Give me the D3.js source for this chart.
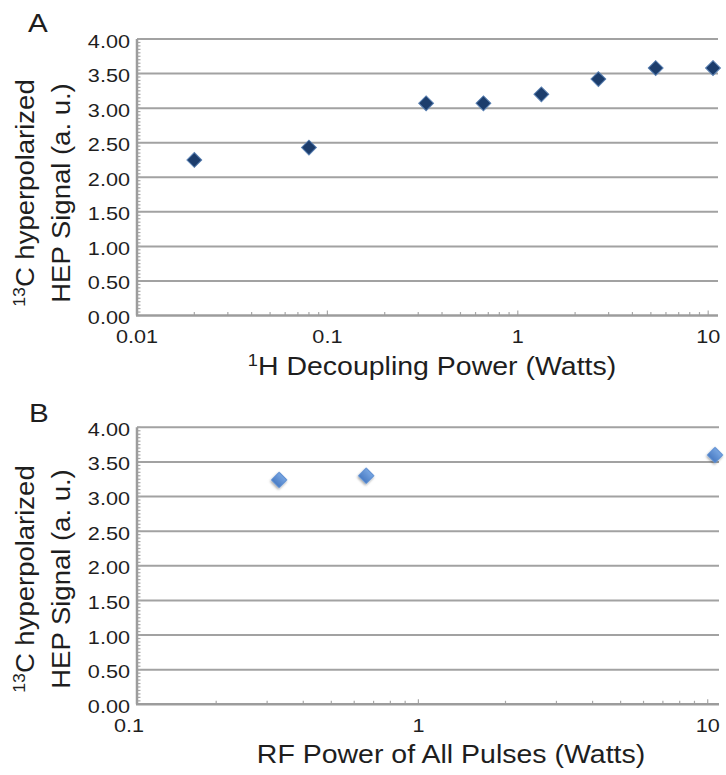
<!DOCTYPE html>
<html lang="en">
<head>
  <meta charset="UTF-8">
  <title>13C hyperpolarized HEP signal vs RF power</title>
  <script src="https://d3js.org/d3.v7.min.js"></script>
  <style>
    body { margin: 0; background: #ffffff; }
    svg text {
      font-family: 'Liberation Sans', Arial, Helvetica, sans-serif;
      fill: #1e1e1e;
    }
    .grid line { stroke: #a2a2a2; stroke-width: 2px; }
    .axis-line { stroke: #9c9c9c; stroke-width: 2.5px; }
    .minor { stroke: #a8a8a8; stroke-width: 1.2px; }
  </style>
</head>
<body>
  <svg id="chart" width="726" height="775"></svg>

  <script>
    // Panel A: 1H decoupling power sweep
    const powerA  = [0.02, 0.08, 0.33, 0.66, 1.33, 2.65, 5.3, 10.6];
    const signalA = [2.25, 2.43, 3.07, 3.07, 3.20, 3.42, 3.58, 3.58];

    // Panel B: RF power of all pulses
    const powerB  = [0.33, 0.66, 10.6];
    const signalB = [3.24, 3.30, 3.60];

    const yTicks = [0, 0.5, 1, 1.5, 2, 2.5, 3, 3.5, 4];
    const xTicksA = [0.01, 0.1, 1, 10];
    const xTicksB = [0.1, 1, 10];
    const xTickLabelsA = ["0.01", "0.1", "1", "10"];
    const xTickLabelsB = ["0.1", "1", "10"];

    const svg = d3.select("#chart");
    const S = 1.14;   // glyphs in the figure are a bit wider than Arial

    // soft shadow + gradient for the light blue markers
    const defs = svg.append("defs");
    const grad = defs.append("linearGradient").attr("id", "blueGrad")
      .attr("x1", 0).attr("y1", 0).attr("x2", 0).attr("y2", 1);
    grad.append("stop").attr("offset", "0%").attr("stop-color", "#78a6e2");
    grad.append("stop").attr("offset", "100%").attr("stop-color", "#4a7cc4");
    defs.append("filter").attr("id", "shadow")
      .attr("x", "-50%").attr("y", "-50%").attr("width", "200%").attr("height", "200%")
      .append("feDropShadow")
      .attr("dx", 0.5).attr("dy", 1.5).attr("stdDeviation", 1.2)
      .attr("flood-color", "#000").attr("flood-opacity", 0.35);

    function panel(o) {
      const g = svg.append("g");
      const x = d3.scaleLog().domain(o.xDomain).range([o.left, o.right]);
      const y = d3.scaleLinear().domain([0, 4]).range([o.bottom, o.top]);

      // horizontal gridlines
      g.append("g").attr("class", "grid")
        .selectAll("line").data(yTicks.filter(d => d > 0)).join("line")
        .attr("x1", o.left).attr("x2", o.right)
        .attr("y1", d => y(d)).attr("y2", d => y(d));

      // y minor ticks along left axis
      g.append("g").selectAll("line").data(d3.range(0, 4.001, 0.05)).join("line")
        .attr("class", "minor")
        .attr("x1", o.left).attr("x2", o.left + 3.5)
        .attr("y1", d => y(d)).attr("y2", d => y(d));

      // x minor / major ticks (log decades)
      g.append("g").selectAll("line").data(x.ticks()).join("line")
        .attr("class", "minor")
        .attr("x1", d => x(d)).attr("x2", d => x(d))
        .attr("y1", o.bottom)
        .attr("y2", d => o.bottom - (Number.isInteger(Math.log10(d)) ? 5 : 3.5));

      // axis lines
      g.append("line").attr("class", "axis-line")
        .attr("x1", o.left).attr("x2", o.left).attr("y1", o.top).attr("y2", o.bottom);
      g.append("line").attr("class", "axis-line")
        .attr("x1", o.left - 1).attr("x2", o.right).attr("y1", o.bottom).attr("y2", o.bottom);

      // y tick labels
      g.append("g").selectAll("text").data(yTicks).join("text")
        .attr("transform", d => `translate(${o.left - 7},${y(d) + 8.5}) scale(${S},1)`)
        .attr("text-anchor", "end")
        .style("font-size", "19px")
        .text(d => d3.format(".2f")(d));

      // x tick labels
      g.append("g").selectAll("text").data(o.xTicks).join("text")
        .attr("transform", d => `translate(${x(d)},${o.bottom + 27.5}) scale(${S},1)`)
        .attr("text-anchor", "middle")
        .style("font-size", "19px")
        .text((d, i) => o.xTickLabels[i]);

      // markers
      const diamond = d3.symbol().type(d3.symbolSquare).size(o.markerSize);
      g.append("g").selectAll("path").data(o.xs).join("path")
        .attr("d", diamond)
        .attr("transform", (d, i) => `translate(${x(d)},${y(o.ys[i])}) rotate(45)`)
        .attr("fill", o.fill)
        .attr("stroke", o.stroke)
        .attr("stroke-width", 1)
        .attr("filter", o.filter || null);

      // panel letter
      g.append("text")
        .attr("transform", `translate(${o.letterX},${o.letterY}) scale(${S},1)`)
        .style("font-size", "26px")
        .text(o.letter);

      // y title, two rotated lines
      const t1 = g.append("text")
        .attr("transform", `translate(33.5,${o.yTitleY}) rotate(-90) scale(1.1,1)`)
        .attr("text-anchor", "middle")
        .style("font-size", "25px");
      t1.append("tspan").style("font-size", "16px").attr("dy", -9).text("13");
      t1.append("tspan").attr("dy", 9).text("C hyperpolarized");

      g.append("text")
        .attr("transform", `translate(70,${o.yTitleY}) rotate(-90) scale(1.1,1)`)
        .attr("text-anchor", "middle")
        .style("font-size", "25px")
        .text("HEP Signal (a. u.)");

      // x title
      const xt = g.append("text")
        .attr("transform", `translate(${o.xTitleX},${o.xTitleY}) scale(${S},1)`)
        .attr("text-anchor", "middle")
        .style("font-size", "25px");
      if (o.xTitleSup) {
        xt.append("tspan").style("font-size", "16px").attr("dy", -9).text(o.xTitleSup);
        xt.append("tspan").attr("dy", 9).text(o.xTitle);
      } else {
        xt.text(o.xTitle);
      }
    }

    panel({
      letter: "A", letterX: 28, letterY: 32,
      left: 137, right: 718, top: 39, bottom: 315.5,
      xDomain: [0.01, 11.26],
      xTicks: xTicksA, xTickLabels: xTickLabelsA,
      xs: powerA, ys: signalA,
      markerSize: 110, fill: "#1c3d6c", stroke: "#5a80b2",
      yTitleY: 193,
      xTitleSup: "1", xTitle: "H Decoupling Power (Watts)", xTitleX: 432, xTitleY: 375
    });

    panel({
      letter: "B", letterX: 29, letterY: 422,
      left: 137, right: 719, top: 427.3, bottom: 704.3,
      xDomain: [0.1065, 10.94],
      xTicks: xTicksB, xTickLabels: xTickLabelsB,
      xs: powerB, ys: signalB,
      markerSize: 120, fill: "url(#blueGrad)", stroke: "#5d8fd2", filter: "url(#shadow)",
      yTitleY: 579,
      xTitle: "RF Power of All Pulses (Watts)", xTitleX: 451, xTitleY: 763
    });
  </script>
</body>
</html>
